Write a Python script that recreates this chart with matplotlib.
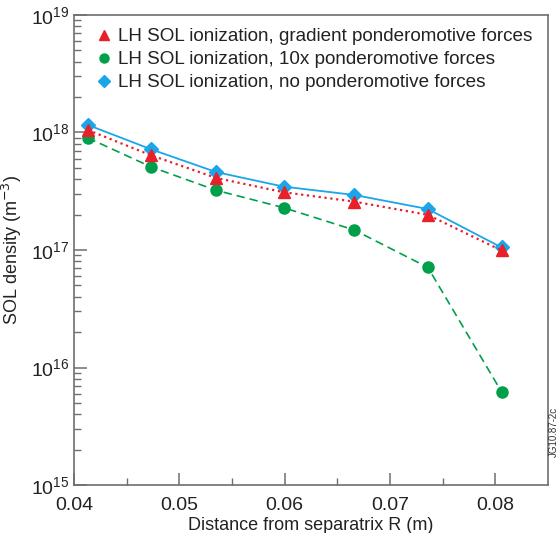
import matplotlib
matplotlib.use("Agg")
import matplotlib.pyplot as plt
from matplotlib.ticker import LogLocator, FixedLocator, NullFormatter

plt.rcParams['font.family'] = ['Liberation Sans', 'DejaVu Sans']

R = [0.0413, 0.0473, 0.0535, 0.0599, 0.0666, 0.0736, 0.0806]
grad = [1.05e18, 6.4e17, 4.1e17, 3.1e17, 2.58e17, 1.99e17, 9.9e16]
tenx = [9.0e17, 5.1e17, 3.22e17, 2.29e17, 1.48e17, 7.1e16, 6.2e15]
none = [1.16e18, 7.2e17, 4.6e17, 3.46e17, 2.94e17, 2.23e17, 1.05e17]
labels = ["LH SOL ionization, gradient ponderomotive forces",
          "LH SOL ionization, 10x ponderomotive forces",
          "LH SOL ionization, no ponderomotive forces"]

red = '#e8202a'
green = '#00a04a'
blue = '#1aa6e8'

fig = plt.figure(figsize=(5.58, 5.33), dpi=100)
ax = fig.add_axes([0.1326, 0.09, 0.8494, 0.882])

l3, = ax.plot(R, none, color=blue, lw=1.3, ls='-', marker='D', ms=7, mec=blue, mfc=blue, zorder=3)
l1, = ax.plot(R, grad, color=red, lw=1.6, ls=':', marker='^', ms=8, mec=red, mfc=red, zorder=4)
l2, = ax.plot(R, tenx, color=green, lw=1.2, ls=(0, (5, 3)), marker='o', ms=8, mec=green, mfc=green, zorder=2)

ax.set_yscale('log')
ax.set_ylim(1e15, 1e19)
ax.set_xlim(0.04, 0.085)
ax.xaxis.set_major_locator(FixedLocator([0.04, 0.05, 0.06, 0.07, 0.08]))
ax.xaxis.set_minor_locator(FixedLocator([0.045, 0.055, 0.065, 0.075]))
ax.set_xticklabels(['0.04', '0.05', '0.06', '0.07', '0.08'])
ax.yaxis.set_major_locator(LogLocator(base=10, numticks=10))
ax.yaxis.set_minor_locator(LogLocator(base=10, subs=range(2, 10), numticks=20))
ax.yaxis.set_minor_formatter(NullFormatter())

spc = '#6e6e6e'
for s in ax.spines.values():
    s.set_color(spc)
    s.set_linewidth(1.2)
ax.tick_params(axis='both', which='major', direction='in', length=9, width=1.1, color=spc,
               labelsize=14, labelcolor='#222222', top=False, right=False)
ax.tick_params(axis='both', which='minor', direction='in', length=5, width=1.0, color=spc,
               top=False, right=False)
ax.tick_params(axis='y', which='major', pad=3)
ax.tick_params(axis='x', which='major', pad=8.5)

ax.set_xlabel('Distance from separatrix R (m)', fontsize=13, color='#222222', labelpad=2)
ax.set_ylabel('SOL density (m$^{-3}$)', fontsize=13, color='#222222', labelpad=5)

leg = ax.legend([l1, l2, l3], labels, loc='upper left', bbox_to_anchor=(0.025, 1.0),
                frameon=False, fontsize=13.6, handlelength=0.5, handletextpad=0.5,
                labelspacing=0.3, borderaxespad=0.3, labelcolor='#222222')
for h in leg.legend_handles:
    h.set_linestyle('none')
    h.set_markersize(6.5)

fig.text(0.992, 0.19, 'JG10.87-2c', rotation=90, fontsize=7, color='#333333',
         ha='center', va='center')

fig.savefig('out.png', dpi=100)
